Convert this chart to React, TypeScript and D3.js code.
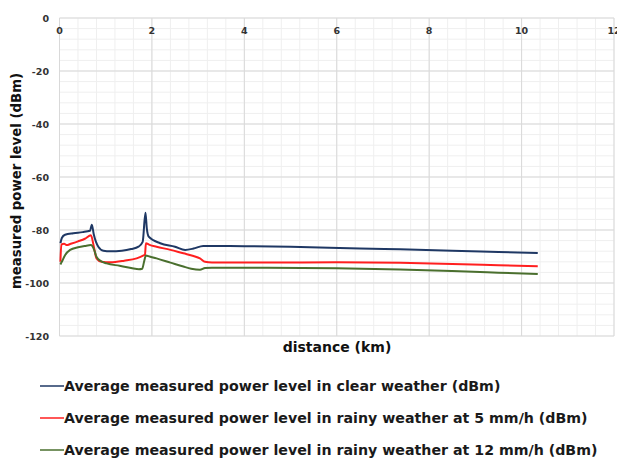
import React from "react";
import * as d3 from "d3";

// distance (km) and power (dBm)
const clearDist = [0.02, 0.05, 0.12, 0.3, 0.5, 0.66, 0.7, 0.74, 0.84, 0.95, 1.1, 1.35, 1.55, 1.71, 1.8, 1.86, 1.89, 1.93, 2.18, 2.5, 2.72, 2.9, 3.11, 4, 5, 6.5, 7.37, 8.5, 9.5, 10.35];
const clearPower = [-85, -83, -81.8, -81.2, -80.8, -80.3, -78.0, -81.5, -86.3, -87.8, -88.0, -87.8, -87.2, -86.3, -84.5, -73.5, -79.5, -82.5, -85.0, -86.3, -87.5, -87.0, -86.0, -86.1, -86.3, -87.0, -87.3, -87.8, -88.3, -88.7];

const rain5Dist = [0.02, 0.04, 0.1, 0.16, 0.23, 0.4, 0.55, 0.68, 0.74, 0.8, 0.91, 1.1, 1.4, 1.67, 1.82, 1.85, 1.87, 1.95, 2.1, 2.4, 2.68, 2.9, 3.04, 3.15, 3.3, 4.5, 6, 7.37, 8.5, 9.5, 10.35];
const rain5Power = [-92, -85.5, -85.2, -85.7, -85.3, -84.3, -83.3, -82.0, -86, -90.7, -92.0, -92.2, -91.6, -90.7, -89.6, -89.3, -85.0, -85.6, -86.3, -87.5, -88.8, -89.8, -90.7, -92.0, -92.3, -92.3, -92.2, -92.4, -92.8, -93.3, -93.7];

const rain12Dist = [0.02, 0.05, 0.12, 0.23, 0.4, 0.55, 0.68, 0.75, 0.8, 0.9, 1.02, 1.3, 1.55, 1.72, 1.79, 1.83, 1.87, 1.95, 2.1, 2.4, 2.68, 2.85, 3.04, 3.15, 3.3, 4.5, 6, 7.37, 8.5, 9.5, 10.35];
const rain12Power = [-93, -92.0, -89.5, -87.5, -86.5, -86.0, -85.7, -87.5, -90.1, -91.8, -92.6, -93.5, -94.3, -94.8, -94.6, -92, -89.6, -90.0, -90.7, -92.3, -93.8, -94.6, -95.0, -94.3, -94.2, -94.2, -94.4, -94.9, -95.5, -96.1, -96.6];

const seriesNames = [
  "Average measured power level in clear weather (dBm)",
  "Average measured power level in rainy weather at 5 mm/h (dBm)",
  "Average measured power level in rainy weather at 12 mm/h (dBm)",
];
const seriesColors = ["#1f3864", "#ff1f1f", "#4a6f2e"];

const xTicks = [0, 2, 4, 6, 8, 10, 12];
const yTicks = [0, -20, -40, -60, -80, -100, -120];

export default function App() {
  const width = 617;
  const height = 459;
  const left = 59.5;
  const right = 614;
  const top = 18;
  const bottom = 336;

  const x = d3.scaleLinear().domain([0, 12]).range([left, right]);
  const y = d3.scaleLinear().domain([-120, 0]).range([bottom, top]);

  const series = [
    { name: seriesNames[0], color: seriesColors[0], pts: clearDist.map((d, i) => [d, clearPower[i]]) },
    { name: seriesNames[1], color: seriesColors[1], pts: rain5Dist.map((d, i) => [d, rain5Power[i]]) },
    { name: seriesNames[2], color: seriesColors[2], pts: rain12Dist.map((d, i) => [d, rain12Power[i]]) },
  ];

  const line = d3.line<number[]>()
    .x((p) => x(p[0]))
    .y((p) => y(p[1]))
    .curve(d3.curveMonotoneX);

  const minorX = d3.range(0, 12.001, 0.4);
  const minorY = d3.range(-120, 0.001, 4);

  return (
    <svg width={width} height={height} style={{ position: "absolute", left: 0, top: 0, background: "#fff" }}
      fontFamily="'DejaVu Sans', Verdana, sans-serif">
      {/* minor grid */}
      {minorX.map((v) => (
        <line key={"mx" + v} x1={x(v)} x2={x(v)} y1={top} y2={bottom} stroke="#efefef" strokeWidth={1} />
      ))}
      {minorY.map((v) => (
        <line key={"my" + v} x1={left} x2={right} y1={y(v)} y2={y(v)} stroke="#efefef" strokeWidth={1} />
      ))}
      {/* major grid */}
      {xTicks.map((v) => (
        <line key={"gx" + v} x1={x(v)} x2={x(v)} y1={top} y2={bottom} stroke="#d9d9d9" strokeWidth={1} />
      ))}
      {yTicks.map((v) => (
        <line key={"gy" + v} x1={left} x2={right} y1={y(v)} y2={y(v)} stroke="#d9d9d9" strokeWidth={1} />
      ))}

      {/* tick labels */}
      {xTicks.map((v) => (
        <text key={"tx" + v} x={x(v)} y={34} textAnchor="middle" fontSize={9.5} fontWeight="bold" fill="#333">{v}</text>
      ))}
      {yTicks.map((v) => (
        <text key={"ty" + v} x={49} y={y(v) + 3.5} textAnchor="end" fontSize={9.5} fontWeight="bold" fill="#333">{v}</text>
      ))}

      {/* series */}
      {series.map((s) => (
        <path key={s.name} d={line(s.pts) ?? ""} fill="none" stroke={s.color} strokeWidth={2} />
      ))}

      {/* axis titles */}
      <text x={337} y={352} textAnchor="middle" fontSize={14} fontWeight="bold" fill="#111">distance (km)</text>
      <text transform="translate(21,181) rotate(-90)" textAnchor="middle" fontSize={13.3} fontWeight="bold" fill="#111">
        measured power level (dBm)
      </text>

      {/* legend */}
      {series.map((s, i) => (
        <g key={"lg" + i} transform={`translate(0,${386 + i * 32})`}>
          <line x1={40} x2={64} y1={0} y2={0} stroke={s.color} strokeWidth={1.5} />
          <text x={64} y={5} fontSize={14.2} fontWeight="bold" fill="#1a1a1a">{s.name}</text>
        </g>
      ))}
    </svg>
  );
}
